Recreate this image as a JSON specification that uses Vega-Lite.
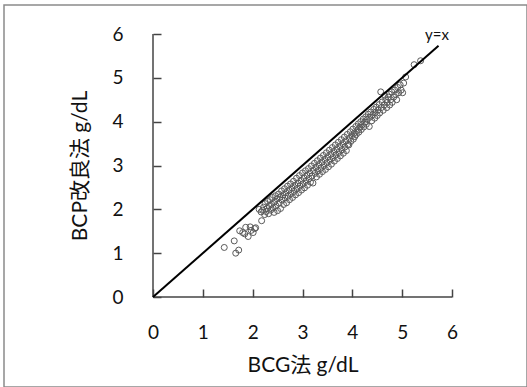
{
  "$schema": "https://vega.github.io/schema/vega-lite/v6.json",
  "autosize": "none",
  "width": 523,
  "height": 382,
  "padding": {"left": 4, "top": 5, "right": 0, "bottom": 0},
  "background": "white",
  "config": {
    "view": {"stroke": "#8a8a8a", "strokeWidth": 1.5},
    "font": "Lato, Noto Sans CJK JP",
    "axis": {
      "grid": false,
      "domain": false,
      "ticks": true,
      "zindex": 1,
      "tickColor": "#444444",
      "tickWidth": 1.5,
      "tickSize": -8,
      "labelFlush": false,
      "labelFont": "Lato",
      "labelFontSize": 19,
      "labelColor": "#111111",
      "titleFont": "Lato, Noto Sans CJK JP",
      "titleFontSize": 21,
      "titleFontWeight": "normal",
      "titleColor": "#111111"
    }
  },
  "datasets": {
    "pts": [
      {"bcg": 1.43, "bcp": 1.13}, {"bcg": 1.63, "bcp": 1.28}, {"bcg": 1.66, "bcp": 1.00}, {"bcg": 1.72, "bcp": 1.07},
      {"bcg": 1.74, "bcp": 1.51}, {"bcg": 1.80, "bcp": 1.47}, {"bcg": 1.84, "bcp": 1.44}, {"bcg": 1.86, "bcp": 1.59},
      {"bcg": 1.91, "bcp": 1.38}, {"bcg": 1.95, "bcp": 1.60}, {"bcg": 1.97, "bcp": 1.52}, {"bcg": 2.01, "bcp": 1.47},
      {"bcg": 2.04, "bcp": 1.56}, {"bcg": 2.06, "bcp": 1.58}, {"bcg": 2.18, "bcp": 1.74}, {"bcg": 2.13, "bcp": 2.00},
      {"bcg": 2.17, "bcp": 1.94},
      {"bcg": 2.20, "bcp": 1.98}, {"bcg": 2.22, "bcp": 2.05}, {"bcg": 2.24, "bcp": 1.88}, {"bcg": 2.25, "bcp": 2.13},
      {"bcg": 2.27, "bcp": 1.95}, {"bcg": 2.29, "bcp": 2.02}, {"bcg": 2.30, "bcp": 2.18}, {"bcg": 2.32, "bcp": 1.90},
      {"bcg": 2.33, "bcp": 2.08}, {"bcg": 2.35, "bcp": 2.22}, {"bcg": 2.36, "bcp": 1.98}, {"bcg": 2.38, "bcp": 2.12},
      {"bcg": 2.40, "bcp": 2.27}, {"bcg": 2.41, "bcp": 2.03}, {"bcg": 2.43, "bcp": 1.93}, {"bcg": 2.44, "bcp": 2.17},
      {"bcg": 2.46, "bcp": 2.31}, {"bcg": 2.47, "bcp": 2.08}, {"bcg": 2.49, "bcp": 2.24}, {"bcg": 2.50, "bcp": 1.97},
      {"bcg": 2.52, "bcp": 2.35}, {"bcg": 2.53, "bcp": 2.14}, {"bcg": 2.55, "bcp": 2.28}, {"bcg": 2.56, "bcp": 2.02},
      {"bcg": 2.58, "bcp": 2.42}, {"bcg": 2.59, "bcp": 2.21}, {"bcg": 2.61, "bcp": 2.33}, {"bcg": 2.62, "bcp": 2.11},
      {"bcg": 2.64, "bcp": 2.47}, {"bcg": 2.65, "bcp": 2.26}, {"bcg": 2.67, "bcp": 2.38}, {"bcg": 2.68, "bcp": 2.15},
      {"bcg": 2.70, "bcp": 2.53}, {"bcg": 2.71, "bcp": 2.30}, {"bcg": 2.73, "bcp": 2.44}, {"bcg": 2.74, "bcp": 2.22},
      {"bcg": 2.76, "bcp": 2.58}, {"bcg": 2.77, "bcp": 2.36}, {"bcg": 2.79, "bcp": 2.49}, {"bcg": 2.80, "bcp": 2.27},
      {"bcg": 2.82, "bcp": 2.64}, {"bcg": 2.83, "bcp": 2.41}, {"bcg": 2.85, "bcp": 2.55}, {"bcg": 2.86, "bcp": 2.33},
      {"bcg": 2.88, "bcp": 2.71}, {"bcg": 2.89, "bcp": 2.47}, {"bcg": 2.91, "bcp": 2.60}, {"bcg": 2.92, "bcp": 2.38},
      {"bcg": 2.94, "bcp": 2.77}, {"bcg": 2.95, "bcp": 2.53}, {"bcg": 2.97, "bcp": 2.66}, {"bcg": 2.98, "bcp": 2.44},
      {"bcg": 3.00, "bcp": 2.83}, {"bcg": 3.01, "bcp": 2.58}, {"bcg": 3.03, "bcp": 2.72}, {"bcg": 3.04, "bcp": 2.49},
      {"bcg": 3.06, "bcp": 2.88}, {"bcg": 3.07, "bcp": 2.64}, {"bcg": 3.09, "bcp": 2.78}, {"bcg": 3.10, "bcp": 2.55},
      {"bcg": 3.12, "bcp": 2.93}, {"bcg": 3.13, "bcp": 2.70}, {"bcg": 3.15, "bcp": 2.83}, {"bcg": 3.16, "bcp": 2.62},
      {"bcg": 3.18, "bcp": 2.99}, {"bcg": 3.19, "bcp": 2.76}, {"bcg": 3.21, "bcp": 2.60}, {"bcg": 3.22, "bcp": 2.89},
      {"bcg": 3.24, "bcp": 3.05}, {"bcg": 3.25, "bcp": 2.82}, {"bcg": 3.27, "bcp": 2.96}, {"bcg": 3.28, "bcp": 2.74},
      {"bcg": 3.30, "bcp": 3.11}, {"bcg": 3.31, "bcp": 2.88}, {"bcg": 3.33, "bcp": 3.02}, {"bcg": 3.34, "bcp": 2.80},
      {"bcg": 3.36, "bcp": 3.17}, {"bcg": 3.37, "bcp": 2.94}, {"bcg": 3.39, "bcp": 3.08}, {"bcg": 3.40, "bcp": 2.86},
      {"bcg": 3.42, "bcp": 3.23}, {"bcg": 3.43, "bcp": 3.00}, {"bcg": 3.45, "bcp": 3.14}, {"bcg": 3.46, "bcp": 2.91},
      {"bcg": 3.48, "bcp": 3.29}, {"bcg": 3.49, "bcp": 3.06}, {"bcg": 3.51, "bcp": 3.20}, {"bcg": 3.52, "bcp": 2.97},
      {"bcg": 3.54, "bcp": 3.35}, {"bcg": 3.55, "bcp": 3.12}, {"bcg": 3.57, "bcp": 3.26}, {"bcg": 3.58, "bcp": 3.03},
      {"bcg": 3.60, "bcp": 3.41}, {"bcg": 3.61, "bcp": 3.18}, {"bcg": 3.63, "bcp": 3.32}, {"bcg": 3.64, "bcp": 3.10},
      {"bcg": 3.66, "bcp": 3.47}, {"bcg": 3.67, "bcp": 3.24}, {"bcg": 3.69, "bcp": 3.38}, {"bcg": 3.70, "bcp": 3.16},
      {"bcg": 3.72, "bcp": 3.53}, {"bcg": 3.73, "bcp": 3.30}, {"bcg": 3.75, "bcp": 3.44}, {"bcg": 3.76, "bcp": 3.22},
      {"bcg": 3.78, "bcp": 3.59}, {"bcg": 3.79, "bcp": 3.36}, {"bcg": 3.81, "bcp": 3.50}, {"bcg": 3.82, "bcp": 3.28},
      {"bcg": 3.84, "bcp": 3.65}, {"bcg": 3.85, "bcp": 3.42}, {"bcg": 3.87, "bcp": 3.56}, {"bcg": 3.88, "bcp": 3.34},
      {"bcg": 3.90, "bcp": 3.71}, {"bcg": 3.91, "bcp": 3.48}, {"bcg": 3.93, "bcp": 3.47}, {"bcg": 3.94, "bcp": 3.62},
      {"bcg": 3.96, "bcp": 3.77}, {"bcg": 3.97, "bcp": 3.55}, {"bcg": 3.99, "bcp": 3.68},
      {"bcg": 4.01, "bcp": 3.83}, {"bcg": 4.02, "bcp": 3.60}, {"bcg": 4.04, "bcp": 3.74}, {"bcg": 4.05, "bcp": 3.66},
      {"bcg": 4.07, "bcp": 3.89}, {"bcg": 4.08, "bcp": 3.71}, {"bcg": 4.10, "bcp": 3.80}, {"bcg": 4.12, "bcp": 3.95},
      {"bcg": 4.13, "bcp": 3.76}, {"bcg": 4.15, "bcp": 3.87}, {"bcg": 4.17, "bcp": 4.00}, {"bcg": 4.18, "bcp": 3.82},
      {"bcg": 4.20, "bcp": 3.93}, {"bcg": 4.22, "bcp": 4.06}, {"bcg": 4.23, "bcp": 3.88}, {"bcg": 4.25, "bcp": 3.99},
      {"bcg": 4.27, "bcp": 4.11}, {"bcg": 4.28, "bcp": 3.94}, {"bcg": 4.30, "bcp": 4.05}, {"bcg": 4.32, "bcp": 4.17},
      {"bcg": 4.34, "bcp": 3.89}, {"bcg": 4.35, "bcp": 4.10}, {"bcg": 4.37, "bcp": 4.22}, {"bcg": 4.39, "bcp": 4.02},
      {"bcg": 4.41, "bcp": 4.16}, {"bcg": 4.43, "bcp": 4.28}, {"bcg": 4.45, "bcp": 4.08}, {"bcg": 4.46, "bcp": 4.21},
      {"bcg": 4.48, "bcp": 4.33}, {"bcg": 4.50, "bcp": 4.14}, {"bcg": 4.52, "bcp": 4.27}, {"bcg": 4.54, "bcp": 4.39},
      {"bcg": 4.55, "bcp": 4.20}, {"bcg": 4.57, "bcp": 4.68}, {"bcg": 4.58, "bcp": 4.32}, {"bcg": 4.60, "bcp": 4.45},
      {"bcg": 4.62, "bcp": 4.26}, {"bcg": 4.64, "bcp": 4.38}, {"bcg": 4.65, "bcp": 4.60}, {"bcg": 4.67, "bcp": 4.50},
      {"bcg": 4.69, "bcp": 4.32}, {"bcg": 4.70, "bcp": 4.44}, {"bcg": 4.72, "bcp": 4.56}, {"bcg": 4.74, "bcp": 4.63},
      {"bcg": 4.75, "bcp": 4.38}, {"bcg": 4.77, "bcp": 4.50}, {"bcg": 4.79, "bcp": 4.68}, {"bcg": 4.80, "bcp": 4.44},
      {"bcg": 4.83, "bcp": 4.56}, {"bcg": 4.85, "bcp": 4.72}, {"bcg": 4.87, "bcp": 4.62}, {"bcg": 4.89, "bcp": 4.50},
      {"bcg": 4.91, "bcp": 4.78}, {"bcg": 4.93, "bcp": 4.66}, {"bcg": 4.96, "bcp": 4.84}, {"bcg": 4.98, "bcp": 4.72},
      {"bcg": 5.01, "bcp": 4.66}, {"bcg": 5.03, "bcp": 4.88}, {"bcg": 5.07, "bcp": 5.02}, {"bcg": 5.24, "bcp": 5.30},
      {"bcg": 5.37, "bcp": 5.39}
    ],
    "axes": [
      {"x1": 0, "x2": 6, "y1": 0, "y2": 0},
      {"x1": 0, "x2": 0, "y1": 0, "y2": 6}
    ],
    "line": [{"bcg": 0, "bcp": 0}, {"bcg": 5.73, "bcp": 5.73}],
    "lab": [{"bcg": 5.7, "bcp": 5.98, "text": "y=x"}]
  },
  "layer": [
    {
      "data": {"name": "pts"},
      "mark": {"type": "point", "shape": "circle", "filled": false, "size": 36, "stroke": "#5a5a5a", "strokeWidth": 1, "opacity": 1},
      "encoding": {
        "x": {
          "field": "bcg", "type": "quantitative",
          "scale": {"domain": [0, 6], "range": [149, 448], "nice": false, "zero": true},
          "axis": {"values": [0, 1, 2, 3, 4, 5, 6], "format": "d", "offset": -90, "labelPadding": 34, "title": "BCG法 g/dL", "titlePadding": 12}
        },
        "y": {
          "field": "bcp", "type": "quantitative",
          "scale": {"domain": [0, 6], "range": [292, 29], "nice": false, "zero": true},
          "axis": {"values": [0, 1, 2, 3, 4, 5, 6], "format": "d", "offset": -149, "labelPadding": 38, "title": "BCP改良法 g/dL", "titlePadding": 21}
        }
      }
    },
    {
      "data": {"name": "axes"},
      "mark": {"type": "rule", "color": "#444444", "strokeWidth": 1.5},
      "encoding": {
        "x": {"field": "x1", "type": "quantitative"},
        "x2": {"field": "x2"},
        "y": {"field": "y1", "type": "quantitative"},
        "y2": {"field": "y2"}
      }
    },
    {
      "data": {"name": "line"},
      "mark": {"type": "line", "color": "#000000", "strokeWidth": 2},
      "encoding": {
        "x": {"field": "bcg", "type": "quantitative"},
        "y": {"field": "bcp", "type": "quantitative"}
      }
    },
    {
      "data": {"name": "lab"},
      "mark": {"type": "text", "font": "Lato", "fontSize": 15, "color": "#111111", "align": "center", "baseline": "middle"},
      "encoding": {
        "x": {"field": "bcg", "type": "quantitative"},
        "y": {"field": "bcp", "type": "quantitative"},
        "text": {"field": "text"}
      }
    }
  ]
}
